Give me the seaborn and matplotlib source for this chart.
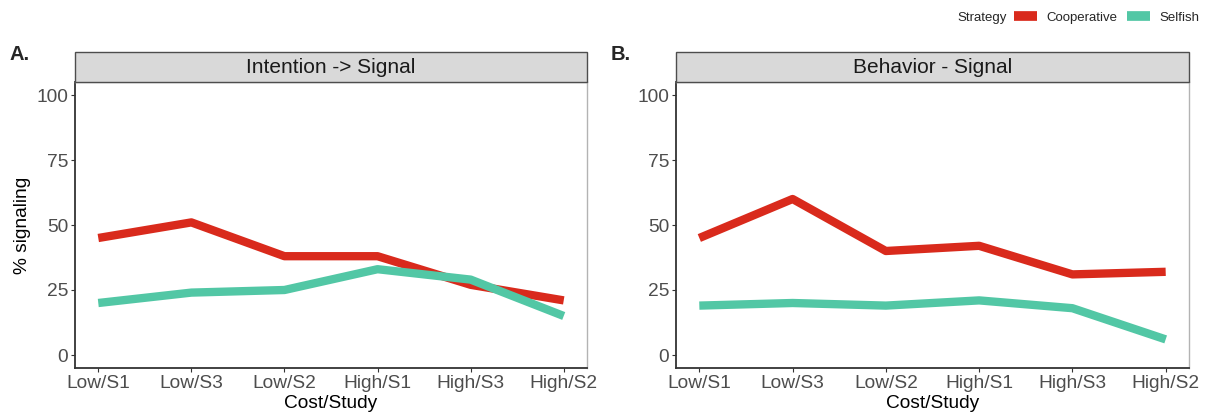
import matplotlib
matplotlib.use("Agg")
import matplotlib.pyplot as plt
from matplotlib.lines import Line2D
from matplotlib.patches import Rectangle
import seaborn as sns
import pandas as pd

# categories and series values
cost_study = ["Low/S1", "Low/S3", "Low/S2", "High/S1", "High/S3", "High/S2"]
strategies = ["Cooperative", "Selfish"]
panel_titles = ["Intention -> Signal", "Behavior - Signal"]
panel_tags = ["A.", "B."]

intention_coop = [45, 51, 38, 38, 27, 21]
intention_selfish = [20, 24, 25, 33, 29, 15]
behavior_coop = [45, 60, 40, 42, 31, 32]
behavior_selfish = [19, 20, 19, 21, 18, 6]

y_ticks = [0, 25, 50, 75, 100]
palette = {"Cooperative": "#D92A1C", "Selfish": "#52C7A5"}


def make_frame(coop, selfish):
    return pd.DataFrame({
        "Cost/Study": cost_study * 2,
        "value": coop + selfish,
        "Strategy": ["Cooperative"] * len(coop) + ["Selfish"] * len(selfish),
    })


frames = [make_frame(intention_coop, intention_selfish),
          make_frame(behavior_coop, behavior_selfish)]

sns.set_style("white")
plt.rcParams["font.family"] = ["Liberation Sans", "DejaVu Sans"]

W, H = 1210, 415
fig = plt.figure(figsize=(W / 100, H / 100), dpi=100)

# panel boxes in pixels: (left, top, right, bottom)
boxes = [(75, 82, 587, 368), (676, 82, 1189, 368)]
strip_h = 30

for i, (df, (l, t, r, b)) in enumerate(zip(frames, boxes)):
    ax = fig.add_axes([l / W, 1 - b / H, (r - l) / W, (b - t) / H])
    sns.lineplot(data=df, x="Cost/Study", y="value", hue="Strategy",
                 palette=palette, lw=6.0, sort=False, legend=False, ax=ax,
                 solid_capstyle="butt", solid_joinstyle="round")
    ax.set_xlim(-0.25, 5.25)
    ax.set_ylim(-5, 105)
    ax.set_yticks(y_ticks)
    ax.tick_params(axis="both", labelsize=13.8, labelcolor="#4D4D4D",
                   length=3, width=0.8, color="#333333", pad=2, direction="out")
    ax.tick_params(axis="both", which="both", bottom=True, left=True)
    for side in ["left", "bottom"]:
        ax.spines[side].set_color("#333333")
        ax.spines[side].set_linewidth(1.3)
    for side in ["top", "right"]:
        ax.spines[side].set_color("#B3B3B3")
        ax.spines[side].set_linewidth(1.0)
    ax.set_xlabel("Cost/Study", fontsize=13.8, color="black", labelpad=2)
    if i == 0:
        ax.set_ylabel("% signaling", fontsize=13.8, color="black", labelpad=4)
    else:
        ax.set_ylabel("")

    # facet strip
    sh = strip_h / (b - t)
    ax.add_patch(Rectangle((0, 1), 1, sh, transform=ax.transAxes,
                           facecolor="#D9D9D9", edgecolor="#4D4D4D",
                           lw=1.0, clip_on=False, zorder=3))
    ax.text(0.5, 1 + sh / 2, panel_titles[i], transform=ax.transAxes,
            ha="center", va="center", fontsize=15, color="#1A1A1A", zorder=4)

    # panel tag
    fig.text((l - 65) / W, 1 - 55 / H, panel_tags[i], fontsize=14.5,
             fontweight="bold", ha="left", va="center")

# legend across the top right
handles = [Line2D([], [], color=palette[s], lw=7, solid_capstyle="butt")
           for s in strategies]
fig.legend(handles, strategies, loc="center right",
           bbox_to_anchor=(1199 / W, 1 - 18 / H), ncol=2, frameon=False,
           fontsize=9.5, handlelength=1.75, handletextpad=0.7,
           columnspacing=0.7, borderpad=0, borderaxespad=0)
fig.text(1007 / W, 1 - 18 / H, "Strategy", fontsize=9.5, ha="right", va="center")

fig.savefig("out.png", dpi=100)
